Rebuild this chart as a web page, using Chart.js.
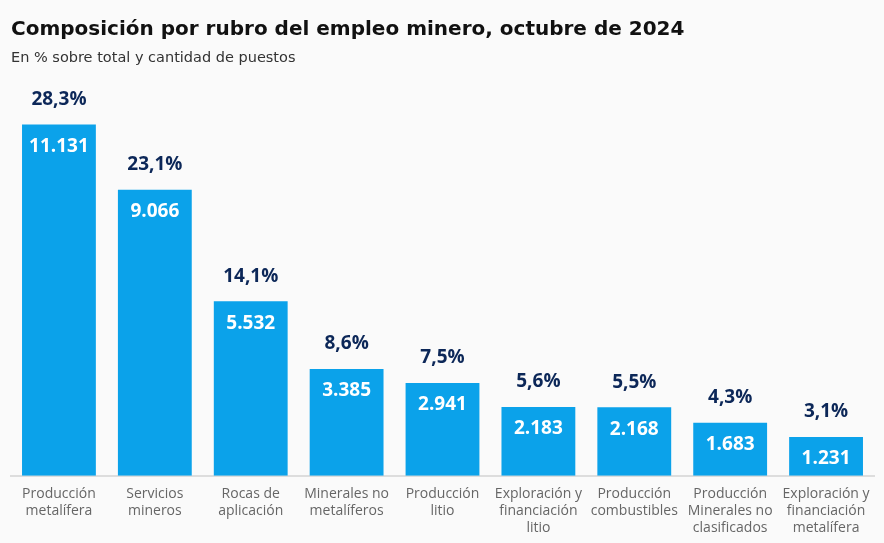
<!DOCTYPE html>
<html>
<head>
<meta charset="utf-8">
<script src="https://cdn.jsdelivr.net/npm/chart.js@4"></script>
<style>
  body { margin: 0; background: #fafafa; }
  canvas { display: block; }
</style>
</head>
<body>
<canvas id="myChart" width="884" height="543"></canvas>
<script>
const categories = [
  ["Producción", "metalífera"],
  ["Servicios", "mineros"],
  ["Rocas de", "aplicación"],
  ["Minerales no", "metalíferos"],
  ["Producción", "litio"],
  ["Exploración y", "financiación", "litio"],
  ["Producción", "combustibles"],
  ["Producción", "Minerales no", "clasificados"],
  ["Exploración y", "financiación", "metalífera"],
];
const puestos = [11131, 9066, 5532, 3385, 2941, 2183, 2168, 1683, 1231];
const porcentajes = [28.3, 23.1, 14.1, 8.6, 7.5, 5.6, 5.5, 4.3, 3.1];

const barColor = "#0ba2ea";
const navy = "#0c2758";
const fontName = "'Open Sans', sans-serif";
const titleFont = "'DejaVu Sans', sans-serif";

// labels: % above the bar, puestos inside near the top
const barLabels = {
  id: "barLabels",
  afterDatasetsDraw(chart) {
    const ctx = chart.ctx;
    const meta = chart.getDatasetMeta(0);
    ctx.save();
    ctx.textAlign = "center";
    ctx.textBaseline = "middle";
    meta.data.forEach((bar, i) => {
      ctx.font = "bold 19px " + fontName;
      ctx.fillStyle = navy;
      ctx.fillText(porcentajes[i].toFixed(1).replace(".", ",") + "%", bar.x, bar.y - 25);
      ctx.fillStyle = "#ffffff";
      ctx.fillText(puestos[i].toLocaleString("de-DE"), bar.x, bar.y + 22);
    });
    ctx.restore();
  },
};

const bg = {
  id: "bg",
  beforeDraw(chart) {
    const ctx = chart.ctx;
    ctx.save();
    ctx.fillStyle = "#fafafa";
    ctx.fillRect(0, 0, chart.width, chart.height);
    ctx.restore();
  },
};

new Chart(document.getElementById("myChart"), {
  type: "bar",
  data: {
    labels: categories,
    datasets: [
      {
        data: puestos,
        backgroundColor: barColor,
        barPercentage: 0.77,
        categoryPercentage: 1,
      },
    ],
  },
  options: {
    responsive: false,
    animation: false,
    layout: { padding: { left: 11, right: 10, top: 18, bottom: 4 } },
    plugins: {
      legend: { display: false },
      tooltip: { enabled: false },
      title: {
        display: true,
        text: "Composición por rubro del empleo minero, octubre de 2024",
        align: "start",
        color: "#111111",
        font: { family: titleFont, size: 20, weight: "bold" },
        padding: { top: 0, bottom: 8 },
      },
      subtitle: {
        display: true,
        text: "En % sobre total y cantidad de puestos",
        align: "start",
        color: "#333333",
        font: { family: titleFont, size: 14.5 },
        padding: { top: 0, bottom: 14 },
      },
    },
    scales: {
      y: {
        display: false,
        min: 0,
        max: 12500,
      },
      x: {
        grid: { display: false },
        border: { color: "#dddddd", width: 2 },
        ticks: {
          color: "#666666",
          font: { family: fontName, size: 14, lineHeight: 1.22 },
          padding: 2,
          maxRotation: 0,
          autoSkip: false,
        },
      },
    },
  },
  plugins: [bg, barLabels],
});
</script>
</body>
</html>
